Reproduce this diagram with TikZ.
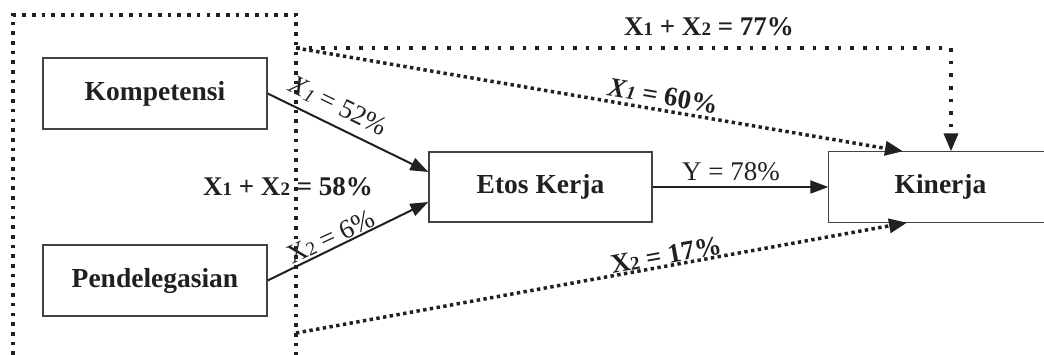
\documentclass[tikz,border=0pt]{standalone}
\usepackage{fontspec}
\setmainfont{Liberation Serif}
\usetikzlibrary{arrows.meta}
\definecolor{ink}{RGB}{35,31,32}
\definecolor{boxc}{RGB}{70,66,67}
\newcommand{\sm}[1]{{\fontsize{19}{19}\selectfont #1}}
\newcommand{\smlow}[1]{\raisebox{-2pt}{\fontsize{19}{19}\selectfont #1}}
\begin{document}
\begin{tikzpicture}[x=1pt,y=-1pt,
  font=\fontsize{27}{30}\selectfont,
  every node/.style={text=ink},
  var/.style={draw=boxc, line width=1.3pt, minimum width=224pt, minimum height=71pt, inner sep=0pt, font=\fontsize{27.5}{30}\selectfont\bfseries},
  arr/.style={draw=ink, line width=2pt, -{Triangle[length=18pt,width=13pt]}},
  bracket/.style={draw=ink, line width=3.6pt, dash pattern=on 3.6pt off 6.1pt},
  dotarr/.style={draw=ink, line width=3.5pt, dash pattern=on 3.4pt off 3.4pt, -{Triangle[length=18pt,width=14pt,sep=0pt]}},
  toparr/.style={draw=ink, line width=3.6pt, dash pattern=on 3.6pt off 9pt, -{Triangle[length=18pt,width=14pt]}},
  lab/.style={inner sep=0pt, font=\fontsize{27}{30}\selectfont\bfseries},
  labn/.style={inner sep=0pt, font=\fontsize{27}{30}\selectfont}
]
\useasboundingbox (0,0) rectangle (1044,355);

% bracket
\coordinate (bl) at (13,355);
\coordinate (tl) at (13,15);
\coordinate (tr) at (296,15);
\coordinate (br) at (296,355);
\draw[bracket] (bl) -- (tl) -- (tr) -- (br);

% boxes
\node[var] (komp) at (155,93.5) {Kompetensi};
\node[var] (pend) at (155,280.5) {Pendelegasian};
\node[var, minimum width=223pt, minimum height=70pt] (etos) at (540.5,187) {Etos Kerja};
\node[var, draw=none, minimum width=223pt, minimum height=70pt] (kin) at (940.5,187) {Kinerja};
\coordinate (rb) at (1044,0);
\draw[draw=boxc, line width=1.3pt] (kin.north west -| rb) -- (kin.north west) -- (kin.south west) -- (kin.south west -| rb);

% solid arrows
\draw[arr] (komp.east) -- ([yshift=15pt]etos.west);
\draw[arr] (pend.east) -- ([yshift=-15pt]etos.west);
\draw[arr] (etos.east) -- (kin.west);

% dotted arrows
\coordinate (ts) at (296,48);
\coordinate (bs) at (296,333);
\draw[toparr] (ts) -| ([xshift=10.5pt]kin.north);
\draw[dotarr] (ts) -- ([xshift=-37.5pt]kin.north);
\draw[dotarr] (bs) -- ([xshift=-33.5pt]kin.south);

% labels
\node[lab] (l77) at (709,27) {X\sm{1} + X\sm{2} = 77\%};
\node[lab] (l58) at (288,187) {X\sm{1} + X\sm{2} = 58\%};
\node[labn] (l78) at (731,172) {Y = 78\%};
\node[labn, rotate=-25.9] (l52) at (338,106) {\textit{X}\smlow{\textit{1}} = 52\%};
\node[labn, rotate=25.1] (l6) at (331,237) {X\sm{2} = 6\%};
\node[lab, rotate=-9.7] (l60) at (663,96) {\textit{X}\sm{\textit{1}} = 60\%};
\node[lab, rotate=10.2] (l17) at (666,255) {X\sm{2} = 17\%};
\end{tikzpicture}
\end{document}
